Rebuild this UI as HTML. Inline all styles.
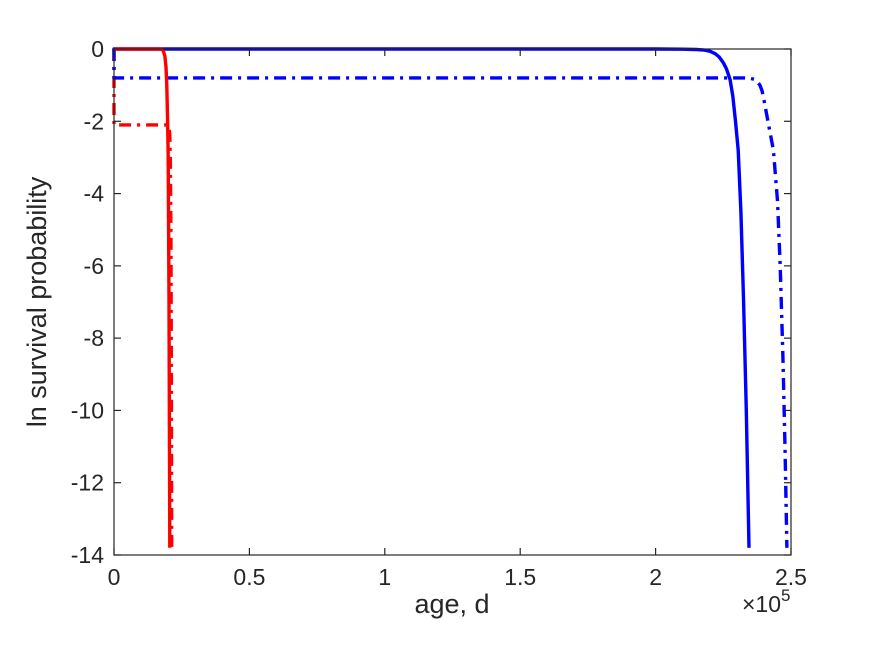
<!DOCTYPE html>
<html><head><meta charset="utf-8"><style>
body{margin:0;background:#fff;}
svg{display:block;font-family:"Liberation Sans",Arial,sans-serif;}
</style></head><body>
<svg width="875" height="656" viewBox="0 0 875 656">
<g id="plot"></g>
<g id="axes"></g>
</svg>
<script>
const xTicks=[0,0.5,1,1.5,2,2.5];
const xTickLabels=["0","0.5","1","1.5","2","2.5"];
const yTicks=[0,-2,-4,-6,-8,-10,-12,-14];
const yTickLabels=["0","-2","-4","-6","-8","-10","-12","-14"];
// series: age (x1e5 d) and ln survival probability
const blueSolidX=[0,0,2.0,2.1,2.15,2.18,2.2,2.22,2.235,2.25,2.262,2.275,2.285,2.295,2.305,2.315,2.325,2.335,2.345];
const blueSolidY=[-0.05,0,0,-0.005,-0.015,-0.03,-0.06,-0.13,-0.22,-0.38,-0.55,-0.85,-1.3,-2,-2.8,-4.5,-7,-10,-13.8];
const blueDashX=[0,0,2.33,2.35,2.365,2.375,2.385,2.393,2.40,2.41,2.42,2.435,2.45,2.46,2.47,2.478,2.485];
const blueDashY=[0,-0.8,-0.8,-0.81,-0.84,-0.9,-1.0,-1.15,-1.4,-1.8,-2.2,-2.8,-4.2,-6,-8.5,-11,-13.8];
const redSolidX=[0,0.175,0.182,0.188,0.192,0.195,0.198,0.2,0.203,0.206];
const redSolidY=[0,0,-0.05,-0.2,-0.5,-1,-2,-3,-7,-13.8];
const redDashX=[0,0,0.198,0.203,0.206,0.208,0.21,0.212,0.213];
const redDashY=[0,-2.1,-2.1,-2.15,-2.4,-3,-5,-9,-13.8];

const L=114,R=791,T=49,B=555,xMin=0,xMax=2.5,yMin=-14,yMax=0;
const sx=v=>L+(v-xMin)/(xMax-xMin)*(R-L);
const sy=v=>T+(yMax-v)/(yMax-yMin)*(B-T);
const NS="http://www.w3.org/2000/svg";
const plot=document.getElementById('plot'),axes=document.getElementById('axes');
function mk(tag,attrs,parent){const e=document.createElementNS(NS,tag);for(const k in attrs)e.setAttribute(k,attrs[k]);parent.appendChild(e);return e;}
function line(xs,ys,color,dash,name){
  const d=xs.map((x,i)=>(i?'L':'M')+sx(x).toFixed(1)+','+sy(ys[i]).toFixed(1)).join('');
  const p=mk('path',{d:d,fill:'none',stroke:color,'stroke-width':3.4,'stroke-dasharray':dash,'stroke-linejoin':'round'},plot);
  
  
}
line(redDashX,redDashY,'#ff0000','12 6 3 6','red-dashdot-line');
line(blueDashX,blueDashY,'#0000ff','12 6 3 6','blue-dashdot-line');
line(blueSolidX,blueSolidY,'#0000ff','none','blue-solid-line');
line(redSolidX,redSolidY,'#ff0000','none','red-solid-line');

const box=mk('rect',{x:L,y:T,width:R-L,height:B-T,fill:'none',stroke:'#262626','stroke-width':1.2},axes);


xTicks.forEach((v,i)=>{
  const x=sx(v);
  mk('line',{x1:x,y1:B,x2:x,y2:B-7,stroke:'#262626','stroke-width':1.2},axes);
  mk('line',{x1:x,y1:T,x2:x,y2:T+7,stroke:'#262626','stroke-width':1.2},axes);
  const t=mk('text',{x:x,y:B+30,'text-anchor':'middle','font-size':23,fill:'#262626'},axes);
  t.textContent=xTickLabels[i];
  
  
});
yTicks.forEach((v,i)=>{
  const y=sy(v);
  mk('line',{x1:L,y1:y,x2:L+7,y2:y,stroke:'#262626','stroke-width':1.2},axes);
  mk('line',{x1:R,y1:y,x2:R-7,y2:y,stroke:'#262626','stroke-width':1.2},axes);
  const t=mk('text',{x:L-10,y:y+8,'text-anchor':'end','font-size':23,fill:'#262626'},axes);
  t.textContent=yTickLabels[i];
  
  
});
const xl=mk('text',{x:452,y:613,'text-anchor':'middle','font-size':27,fill:'#262626'},axes);
xl.textContent='age, d';


const ex=mk('text',{x:742,y:612,'font-size':23,fill:'#262626'},axes);
ex.innerHTML='×10<tspan dy="-11" font-size="17">5</tspan>';


const yl=mk('text',{x:0,y:0,'text-anchor':'middle','font-size':27,fill:'#262626',transform:'translate(46,302) rotate(-90)'},axes);
yl.textContent='ln survival probability';


</script>
</body></html>
